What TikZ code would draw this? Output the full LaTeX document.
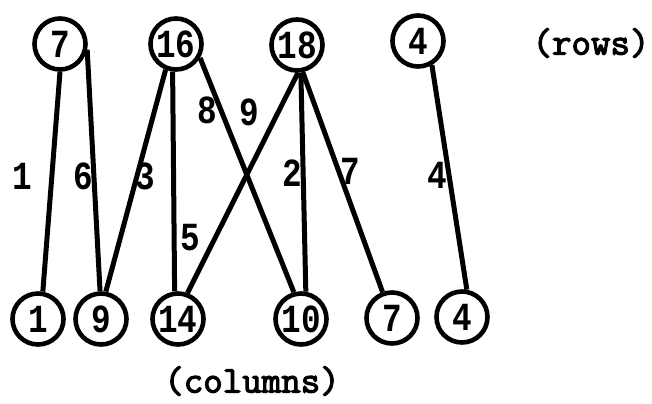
\documentclass[tikz,border=0pt]{standalone}
\usepackage{fontspec}
\setmonofont{Liberation Mono}
\newfontfamily\digf[FakeStretch=0.82]{Liberation Mono}
\newfontfamily\capf[FakeBold=3]{Latin Modern Mono}
\begin{document}
\begin{tikzpicture}[x=1bp,y=-1bp,
  vert/.style={circle,draw,line width=4.6bp,minimum size=51bp,inner sep=0pt,font=\digf\bfseries\fontsize{40}{40}\selectfont},
  edge/.style={line width=5bp},
  elab/.style={font=\digf\bfseries\fontsize{40}{40}\selectfont,inner sep=0pt},
  captxt/.style={font=\capf\fontsize{38}{38}\selectfont,inner sep=0pt}]
\useasboundingbox (0,0) rectangle (652,403);
% rows
\node[vert] (r7)  at (60,44) {7};
\node[vert] (r16) at (176,44) {16};
\node[vert] (r18) at (297,45) {18};
\node[vert] (r4)  at (418,41) {4};
% columns
\node[vert] (c1)  at (38,319) {1};
\node[vert] (c9)  at (101,319) {9};
\node[vert] (c14) at (178,319) {14};
\node[vert] (c10) at (301,319) {10};
\node[vert] (c7)  at (392,318) {7};
\node[vert] (c4)  at (462,317) {4};
% edges
\draw[edge] (r7.-90) -- (c1.80);
\draw[edge] (r7.-12) -- (c9.92);
\draw[edge] (r16.-112) -- (c9.80);
\draw[edge] (r16.-97) -- (c14.97);
\draw[edge] (r16.-30) -- (c10.105);
\draw[edge] (r18.-88) -- (c14.70);
\draw[edge] (r18.-82) -- (c10.80);
\draw[edge] (r18.-78) -- (c7.110);
\draw[edge] (r4.-60) -- (c4.80);
% edge labels
\node[elab] (l1) at (22,176) {1};
\node[elab] (l6) at (83,176) {6};
\node[elab] (l3) at (145,176) {3};
\node[elab] (l8) at (207,110) {8};
\node[elab] (l9) at (249,112) {9};
\node[elab] (l2) at (292,173) {2};
\node[elab] (l7) at (350,171) {7};
\node[elab] (l4) at (437,175) {4};
\node[elab] (l5) at (190,238) {5};
% captions
\node[captxt] (rows) at (591,43) {(rows)};
\node[captxt] (cols) at (252,381) {(columns)};
\end{tikzpicture}
\end{document}
